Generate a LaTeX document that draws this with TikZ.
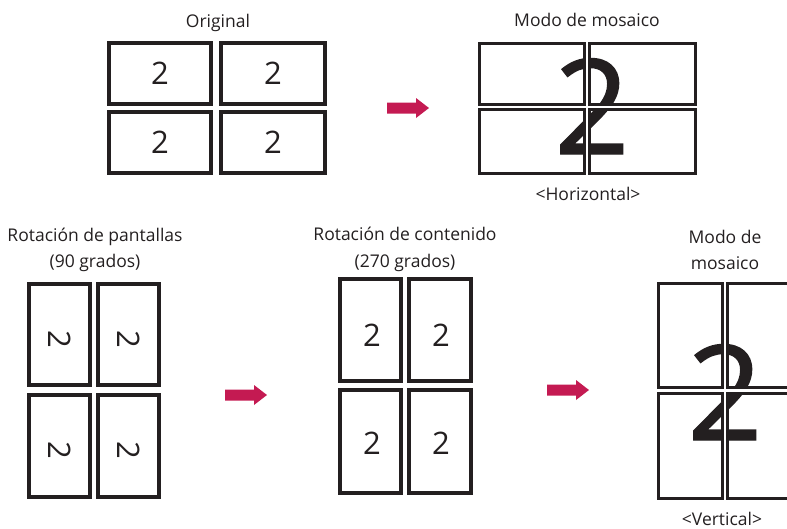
\documentclass[tikz,border=0pt]{standalone}
\usepackage{fontspec}
\setmainfont{Open Sans}
\newfontfamily\bigtwofont[FakeBold=1]{Open Sans}
\definecolor{ink}{HTML}{231F20}
\definecolor{arrowred}{HTML}{C41A52}
\tikzset{
  thickscreen/.style={draw=ink, line width=4pt, inner sep=0pt},
  thinscreen/.style={draw=ink, line width=3.2pt, inner sep=0pt},
  caption/.style={font=\fontsize{17.5}{21}\selectfont, text=ink, anchor=base, inner sep=0pt},
  smalltwo/.style={font=\fontsize{31}{31}\selectfont, text=ink, inner sep=0pt},
  bigtwo/.style={font=\bigtwofont\fontsize{132}{132}\selectfont, text=ink, anchor=base, inner sep=0pt},
  gapfill/.style={fill=white},
  rarrow/.pic={\fill[arrowred] (0,-5.5) -- (29,-5.5) -- (29,-10) -- (42,0) -- (29,10) -- (29,5.5) -- (0,5.5) -- cycle;}
}
\begin{document}
\begin{tikzpicture}[x=1pt,y=-1pt]
\useasboundingbox (0,0) rectangle (787,528);
\clip (0,0) rectangle (787,528);

% ---------- Original ----------
\node[caption] (tOrig) at (218,27) {Original};
\node[thickscreen, minimum width=102pt, minimum height=61pt] (A1) at (160,73.5) {};
\node[thickscreen, minimum width=104pt, minimum height=61pt] (A2) at (273,73.5) {};
\node[thickscreen, minimum width=102pt, minimum height=61pt] (A3) at (160,142.5) {};
\node[thickscreen, minimum width=104pt, minimum height=61pt] (A4) at (273,142.5) {};
\node[smalltwo] (a1) at (A1.center) {2};
\node[smalltwo] (a2) at (A2.center) {2};
\node[smalltwo] (a3) at (A3.center) {2};
\node[smalltwo] (a4) at (A4.center) {2};

\pic (arr1) at (387,108) {rarrow};

% ---------- Modo de mosaico (horizontal) ----------
\node[caption] (tMos) at (587,26) {Modo de mosaico};
\node[bigtwo] (bigH) at (592,154) {2};
\fill[gapfill] (586,40) rectangle (588,177);
\fill[gapfill] (476,105.7) rectangle (699,107.7);
\node[thinscreen, minimum width=104.8pt, minimum height=60.5pt] (B1) at (532,73.85) {};
\node[thinscreen, minimum width=105.8pt, minimum height=60.5pt] (B2) at (642.5,73.85) {};
\node[thinscreen, minimum width=104.8pt, minimum height=64.1pt] (B3) at (532,141.35) {};
\node[thinscreen, minimum width=105.8pt, minimum height=64.1pt] (B4) at (642.5,141.35) {};
\node[caption] (tHor) at (588,200) {<Horizontal>};

% ---------- Rotacion de pantallas ----------
\node[caption] (tRot1) at (95,241) {Rotación de pantallas};
\node[caption] (tRot1b) at (95,267) {(90 grados)};
\node[thickscreen, minimum width=61pt, minimum height=101pt] (C1) at (59.5,334.5) {};
\node[thickscreen, minimum width=61pt, minimum height=101pt] (C2) at (128.5,334.5) {};
\node[thickscreen, minimum width=61pt, minimum height=102pt] (C3) at (59.5,446) {};
\node[thickscreen, minimum width=61pt, minimum height=102pt] (C4) at (128.5,446) {};
\node[smalltwo, rotate=-90] (c1) at (60,339.5) {2};
\node[smalltwo, rotate=-90] (c2) at (129,339.5) {2};
\node[smalltwo, rotate=-90] (c3) at (60,450.5) {2};
\node[smalltwo, rotate=-90] (c4) at (129,450.5) {2};

\pic (arr2) at (225,395) {rarrow};

% ---------- Rotacion de contenido ----------
\node[caption] (tRot2) at (405,240) {Rotación de contenido};
\node[caption] (tRot2b) at (405,267) {(270 grados)};
\node[thickscreen, minimum width=61pt, minimum height=102pt] (D1) at (370.5,330) {};
\node[thickscreen, minimum width=62pt, minimum height=102pt] (D2) at (440,330) {};
\node[thickscreen, minimum width=61pt, minimum height=103pt] (D3) at (370.5,441.5) {};
\node[thickscreen, minimum width=62pt, minimum height=103pt] (D4) at (440,441.5) {};
\node[smalltwo] (d1) at (372,335) {2};
\node[smalltwo] (d2) at (441,335) {2};
\node[smalltwo] (d3) at (372,443) {2};
\node[smalltwo] (d4) at (441,443) {2};

\pic (arr3) at (547,390) {rarrow};

% ---------- Modo de mosaico (vertical) ----------
\node[caption] (tMos2) at (725,243) {Modo de};
\node[caption] (tMos2b) at (725,269) {mosaico};
\node[bigtwo] (bigV) at (725,440) {2};
\fill[gapfill] (724,280) rectangle (726,502);
\fill[gapfill] (655,389.3) rectangle (795,391.7);
\node[thinscreen, minimum width=63.8pt, minimum height=104.1pt] (E1) at (690.5,335.65) {};
\node[thinscreen, minimum width=63.8pt, minimum height=104.1pt] (E2) at (759.5,335.65) {};
\node[thinscreen, minimum width=63.8pt, minimum height=105.1pt] (E3) at (690.5,445.85) {};
\node[thinscreen, minimum width=63.8pt, minimum height=105.1pt] (E4) at (759.5,445.85) {};
\node[caption] (tVer) at (722,525) {<Vertical>};
\end{tikzpicture}
\end{document}
